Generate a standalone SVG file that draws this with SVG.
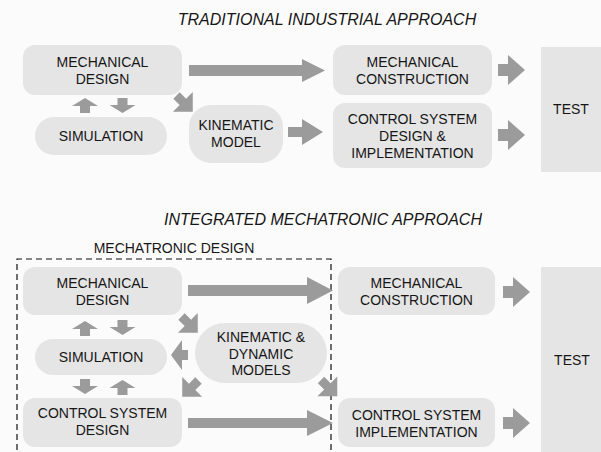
<svg xmlns="http://www.w3.org/2000/svg" xmlns:xlink="http://www.w3.org/1999/xlink" width="601" height="452" viewBox="0 0 601 452">
  <style>
    .box { fill: #e5e5e5; }
    .arr { fill: #9b9b9b; }
    .lbl { font-family: "Liberation Sans", Arial, sans-serif; font-size: 14px; fill: #161616; text-anchor: middle; }
    .title { font-family: "Liberation Sans", Arial, sans-serif; font-size: 16px; font-style: italic; fill: #161616; text-anchor: middle; }
    .dash { fill: none; stroke: #111; stroke-width: 1.2; stroke-dasharray: 6 4; }
  </style>
  <defs>
    <!-- small block arrow pointing +x, tail at origin -->
    <path id="aSmall" d="M0,-6 H10 V-15 L27,0 L10,15 V6 H0 Z"/>
    <!-- short vertical arrow, tip at origin pointing up -->
    <path id="aUp" d="M0,0 L13,8 H5 V15 H-5 V8 H-13 Z"/>
    <!-- diagonal arrow, tail at origin pointing +x (rotated in use) -->
    <path id="aDiag" d="M0,-4.5 H9 V-14 L23,0 L9,14 V4.5 H0 Z"/>
    <!-- squat arrow pointing +x -->
    <path id="aSquat" d="M0,-5 H6 V-15 L17,0 L6,15 V5 H0 Z"/>
  </defs>

  <rect x="0" y="0" width="601" height="452" fill="#fbfbfb"/>

  <!-- section titles -->
  <text class="title" x="327" y="25">TRADITIONAL INDUSTRIAL APPROACH</text>
  <text class="title" x="323" y="225">INTEGRATED MECHATRONIC APPROACH</text>
  <text class="lbl" x="174" y="253">MECHATRONIC DESIGN</text>

  <!-- traditional approach nodes -->
  <g id="t-mech-design">
    <rect class="box" x="23" y="45" width="159" height="50" rx="12"/>
    <text class="lbl" x="102.5" y="67">MECHANICAL</text>
    <text class="lbl" x="102.5" y="84">DESIGN</text>
  </g>
  <g id="t-simulation">
    <rect class="box" x="35" y="117" width="132" height="38" rx="19"/>
    <text class="lbl" x="101" y="141">SIMULATION</text>
  </g>
  <g id="t-kinematic">
    <rect class="box" x="189" y="105" width="94" height="58" rx="22"/>
    <text class="lbl" x="236" y="130">KINEMATIC</text>
    <text class="lbl" x="236" y="147">MODEL</text>
  </g>
  <g id="t-mech-construction">
    <rect class="box" x="333" y="45" width="159" height="50" rx="12"/>
    <text class="lbl" x="412.5" y="67">MECHANICAL</text>
    <text class="lbl" x="412.5" y="84">CONSTRUCTION</text>
  </g>
  <g id="t-control">
    <rect class="box" x="333" y="103" width="159" height="65" rx="12"/>
    <text class="lbl" x="412.5" y="124">CONTROL SYSTEM</text>
    <text class="lbl" x="412.5" y="141">DESIGN &amp;</text>
    <text class="lbl" x="412.5" y="158">IMPLEMENTATION</text>
  </g>
  <g id="t-test">
    <rect class="box" x="541" y="47" width="60" height="125"/>
    <text class="lbl" x="571" y="114">TEST</text>
  </g>

  <!-- integrated approach nodes -->
  <g id="i-mech-design">
    <rect class="box" x="23" y="267" width="159" height="48" rx="12"/>
    <text class="lbl" x="102.5" y="288">MECHANICAL</text>
    <text class="lbl" x="102.5" y="305">DESIGN</text>
  </g>
  <g id="i-simulation">
    <rect class="box" x="35" y="339" width="132" height="36" rx="18"/>
    <text class="lbl" x="101" y="362">SIMULATION</text>
  </g>
  <g id="i-control-design">
    <rect class="box" x="23" y="398" width="159" height="49" rx="12"/>
    <text class="lbl" x="102.5" y="418">CONTROL SYSTEM</text>
    <text class="lbl" x="102.5" y="435">DESIGN</text>
  </g>
  <g id="i-models">
    <rect class="box" x="195" y="323" width="132" height="60" rx="30"/>
    <text class="lbl" x="261" y="342">KINEMATIC &amp;</text>
    <text class="lbl" x="261" y="358.5">DYNAMIC</text>
    <text class="lbl" x="261" y="375">MODELS</text>
  </g>
  <g id="i-mech-construction">
    <rect class="box" x="338" y="267" width="157" height="48" rx="12"/>
    <text class="lbl" x="416.5" y="288">MECHANICAL</text>
    <text class="lbl" x="416.5" y="305">CONSTRUCTION</text>
  </g>
  <g id="i-control-impl">
    <rect class="box" x="338" y="398" width="157" height="49" rx="12"/>
    <text class="lbl" x="416.5" y="420">CONTROL SYSTEM</text>
    <text class="lbl" x="416.5" y="437">IMPLEMENTATION</text>
  </g>
  <g id="i-test">
    <rect class="box" x="541" y="267" width="60" height="185"/>
    <text class="lbl" x="572" y="365">TEST</text>
  </g>

  <!-- mechatronic design boundary -->
  <g id="mechatronic-boundary">
    <path class="dash" d="M17,460 V259 H331 V460"/>
  </g>

  <!-- connectors -->
  <g id="connectors" class="arr">
    <!-- traditional -->
    <path d="M189,65 H302 V59 L325,70.5 L302,82 V76 H189 Z"/>
    <path d="M288,127 H302 V119 L323,132 L302,145 V137 H288 Z"/>
    <use xlink:href="#aUp" transform="translate(85,98)"/>
    <use xlink:href="#aUp" transform="translate(122.5,113) rotate(180)"/>
    <use xlink:href="#aDiag" transform="translate(176.5,95.5) rotate(45)"/>
    <use xlink:href="#aSmall" transform="translate(498,70)"/>
    <use xlink:href="#aSmall" transform="translate(498,135)"/>

    <!-- integrated -->
    <path d="M188,285 H307 V277 L333,290.5 L307,304 V296 H188 Z"/>
    <path d="M188,418 H307 V410 L333,423 L307,436 V428 H188 Z"/>
    <use xlink:href="#aUp" transform="translate(85,321)"/>
    <use xlink:href="#aUp" transform="translate(122.5,335) rotate(180)"/>
    <use xlink:href="#aUp" transform="translate(85,394) rotate(180)"/>
    <use xlink:href="#aUp" transform="translate(122.5,380)"/>
    <use xlink:href="#aDiag" transform="translate(181.5,316.5) rotate(45)"/>
    <use xlink:href="#aSquat" transform="translate(188,355) rotate(180)"/>
    <use xlink:href="#aDiag" transform="translate(198.5,380.5) rotate(135)"/>
    <use xlink:href="#aDiag" transform="translate(321,380) rotate(45)"/>
    <use xlink:href="#aSmall" transform="translate(503,292)"/>
    <use xlink:href="#aSmall" transform="translate(503,423)"/>
  </g>
</svg>
